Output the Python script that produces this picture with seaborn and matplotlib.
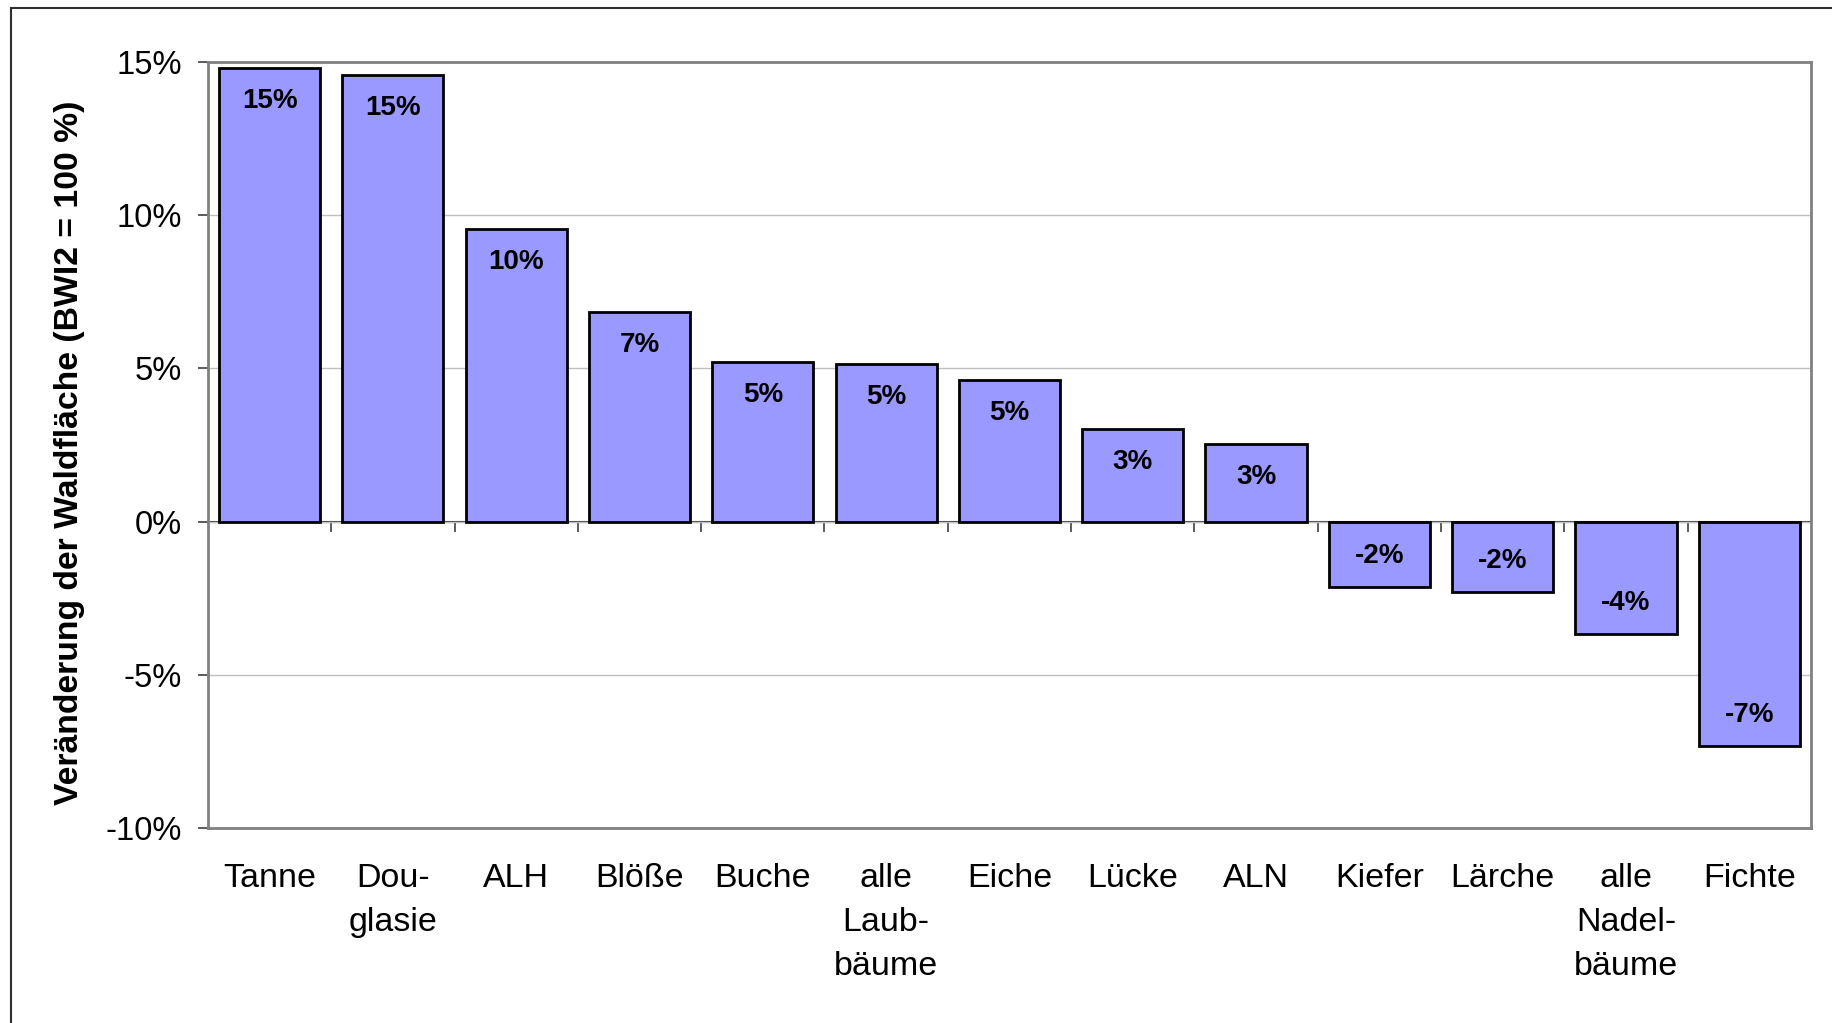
import matplotlib.pyplot as plt
import numpy as np
import pandas as pd
import seaborn as sns
from matplotlib.patches import Rectangle

# ================================
# Veränderung der Waldfläche nach Baumarten (BWI2 = 100 %)
# ================================

categories = ["Tanne", "Dou-\nglasie", "ALH", "Blöße", "Buche", "alle\nLaub-\nbäume",
              "Eiche", "Lücke", "ALN", "Kiefer", "Lärche", "alle\nNadel-\nbäume", "Fichte"]
values = [14.81, 14.58, 9.55, 6.84, 5.20, 5.13, 4.63, 3.03, 2.53, -2.14, -2.30, -3.67, -7.31]
yticks = [-10, -5, 0, 5, 10, 15]

df = pd.DataFrame({"art": categories, "wert": values})

sns.set_style("white")
plt.rcParams["font.family"] = ["Liberation Sans", "DejaVu Sans"]
plt.rcParams.update({"text.color": "black", "axes.labelcolor": "black",
                     "xtick.color": "black", "ytick.color": "black"})

fig = plt.figure(figsize=(18.32, 10.23), dpi=100)
ax = fig.add_axes([0.1135, 0.1906, 0.875, 0.7488])

sns.barplot(data=df, x="art", y="wert", color="#9999ff", saturation=1,
            edgecolor="black", linewidth=2, width=0.82, ax=ax, zorder=2)

ax.set_ylim(-10, 15)
ax.set_xlim(-0.5, len(categories) - 0.5)
ax.set_yticks(yticks)
ax.set_yticklabels([f"{t}%" for t in yticks], fontsize=23.5)
ax.set_xlabel("")
ax.set_ylabel("Veränderung der Waldfläche (BWI2 = 100 %)", fontsize=24.3, fontweight="bold")
ax.yaxis.set_label_coords(-0.077, 0.49)

ax.yaxis.grid(True, color="#c0c0c0", lw=1)
ax.set_axisbelow(True)
for s in ax.spines.values():
    s.set_color("#808080")
    s.set_linewidth(2)

ax.tick_params(axis="y", direction="out", length=7, width=1.2, color="#404040", pad=12, left=True)
ax.tick_params(axis="x", length=0, pad=25, labelsize=24.5)
for lab in ax.get_xticklabels():
    lab.set_linespacing(1.54)

# zero line with category separators
sec = ax.secondary_xaxis(0, transform=ax.transData)
sec.set_xticks(np.arange(0.5, len(categories) - 0.5, 1))
sec.set_xticklabels([])
sec.tick_params(direction="out", length=7, width=1.2, color="#404040")
sec.spines["bottom"].set_color("#404040")
sec.spines["bottom"].set_linewidth(1.5)

# value labels inside bar ends
for p, v in zip(ax.patches, values):
    x = p.get_x() + p.get_width() / 2
    off = -23.7 if v > 0 else 22.3
    ax.annotate(f"{v:.0f}%", (x, v), xytext=(0, off), textcoords="offset points",
                ha="center", va="center", fontsize=20, fontweight="bold", zorder=5)

# outer frame (only top and left visible)
fig.patches.append(Rectangle((0.006, -0.1), 1.2, 1.0922, transform=fig.transFigure,
                             fill=False, edgecolor="#303030", lw=1.5))

fig.savefig("out.png", dpi=100)
